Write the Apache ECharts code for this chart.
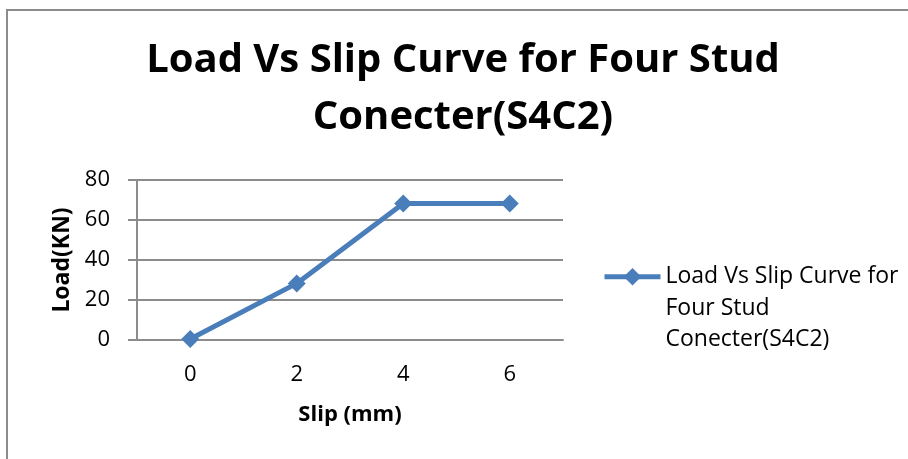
<!DOCTYPE html>
<html>
<head>
<meta charset="utf-8">
<script src="https://cdn.jsdelivr.net/npm/echarts@6/dist/echarts.min.js"></script>
<style>
html,body{margin:0;padding:0;background:#fff;}
#frame{position:absolute;left:6px;top:9px;width:950px;height:500px;border-left:2px solid #8c8c8c;border-top:2px solid #8c8c8c;}
#chart{position:absolute;left:0;top:0;width:908px;height:459px;}
</style>
</head>
<body>
<div id="frame"></div>
<div id="chart"></div>
<script>
const categories = ['0', '2', '4', '6'];
const loadValues = [0.5, 28.3, 68.3, 68.3];
const seriesName = 'Load Vs Slip Curve for Four Stud Conecter(S4C2)';
const legendLines = ['Load Vs Slip Curve for', 'Four Stud', 'Conecter(S4C2)'];
const titleText = 'Load Vs Slip Curve for Four Stud\nConecter(S4C2)';
const xName = 'Slip (mm)';
const yName = 'Load(KN)';

const font = '"Open Sans", "Noto Sans", sans-serif';
const chart = echarts.init(document.getElementById('chart'), null, {renderer: 'canvas'});
chart.setOption({
  backgroundColor: 'transparent',
  animation: false,
  title: {
    text: titleText,
    left: 458,
    textAlign: 'center',
    top: 27,
    textStyle: {fontFamily: font, fontWeight: 'bold', fontSize: 40, lineHeight: 57, color: '#000'}
  },
  legend: {
    left: 602,
    top: 198,
    padding: 0,
    orient: 'vertical',
    itemWidth: 56,
    itemHeight: 22,
    itemGap: 0,
    lineStyle: {width: 5},
    formatter: function () { return '\n\n' + legendLines.join('\n'); },
    textStyle: {fontFamily: font, fontSize: 23, lineHeight: 31.5, color: '#000'}
  },
  grid: {left: 137, right: 345, top: 180, bottom: 119, containLabel: false},
  xAxis: {
    type: 'category',
    data: categories,
    boundaryGap: true,
    name: xName,
    nameLocation: 'middle',
    nameGap: 64,
    nameTextStyle: {fontFamily: font, fontWeight: 'bold', fontSize: 22, color: '#000'},
    axisLine: {show: true, lineStyle: {color: '#8c8c8c', width: 2}},
    axisTick: {show: false},
    axisLabel: {fontFamily: font, fontSize: 22, color: '#000', margin: 24}
  },
  yAxis: {
    type: 'value',
    min: 0, max: 80, interval: 20,
    name: yName,
    nameLocation: 'middle',
    nameGap: 63,
    nameRotate: 90,
    nameTextStyle: {fontFamily: font, fontWeight: 'bold', fontSize: 23, color: '#000'},
    axisLine: {show: true, lineStyle: {color: '#8c8c8c', width: 2}},
    axisTick: {show: true, inside: false, length: 9, lineStyle: {color: '#8c8c8c', width: 2}},
    axisLabel: {fontFamily: font, fontSize: 22, color: '#000', margin: 27},
    splitLine: {show: true, lineStyle: {color: '#8c8c8c', width: 2}}
  },
  series: [{
    name: seriesName,
    type: 'line',
    data: loadValues,
    symbol: 'diamond',
    symbolSize: 18,
    showSymbol: true,
    lineStyle: {color: '#4a7ebb', width: 5},
    itemStyle: {color: '#4a7ebb'}
  }]
});
</script>
</body>
</html>
